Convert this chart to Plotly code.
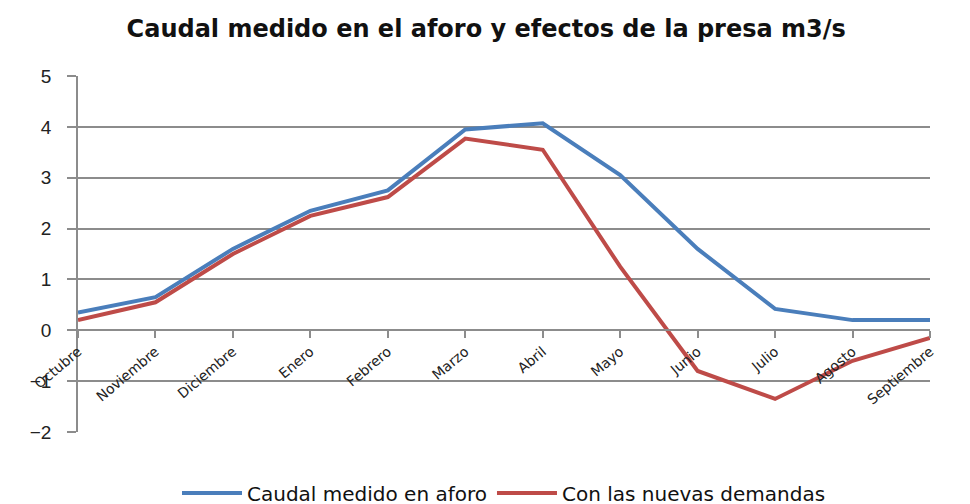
import plotly.graph_objects as go

meses = ["Octubre", "Noviembre", "Diciembre", "Enero", "Febrero", "Marzo",
         "Abril", "Mayo", "Junio", "Julio", "Agosto", "Septiembre"]
caudal_aforo = [0.35, 0.65, 1.6, 2.35, 2.75, 3.95, 4.07, 3.05, 1.6, 0.42, 0.2, 0.2]
nuevas_demandas = [0.2, 0.55, 1.5, 2.25, 2.62, 3.77, 3.55, 1.25, -0.8, -1.35, -0.6, -0.15]
y_ticks = [-2, -1, 0, 1, 2, 3, 4, 5]

fig = go.Figure()
fig.add_trace(go.Scatter(x=meses, y=caudal_aforo, mode="lines",
                         name="Caudal medido en aforo",
                         line=dict(color="#4A7EBB", width=4)))
fig.add_trace(go.Scatter(x=meses, y=nuevas_demandas, mode="lines",
                         name="Con las nuevas demandas",
                         line=dict(color="#BE4B48", width=4)))

fig.update_layout(
    width=970, height=504,
    margin=dict(l=70, r=48, t=68, b=80, autoexpand=False),
    paper_bgcolor="white", plot_bgcolor="white",
    title=dict(text="<b>Caudal medido en el aforo y efectos de la presa m3/s</b>",
               x=0.493, xanchor="center", y=1 - 21 / 504, yanchor="middle",
               font=dict(family="DejaVu Sans", size=24, color="#111111")),
    legend=dict(orientation="h", x=0.5, xanchor="center", y=-0.171, yanchor="middle",
                font=dict(family="DejaVu Sans", size=20, color="#111111"),
                itemwidth=60, traceorder="normal"),
    xaxis=dict(type="category", range=[0, 11], anchor="free", position=2 / 7,
               showline=True, linecolor="#8C8C8C", linewidth=1.5,
               ticks="outside", ticklen=7, tickcolor="#8C8C8C", tickwidth=1.5,
               tickangle=-40, showgrid=False, automargin=False,
               tickfont=dict(family="DejaVu Sans", size=14, color="#222222")),
    yaxis=dict(range=[-2, 5], tickvals=y_ticks, showline=True, linecolor="#8C8C8C",
               linewidth=1.5, ticks="outside", ticklen=9, tickcolor="#8C8C8C",
               tickwidth=1.5, showgrid=True, gridcolor="#8C8C8C", gridwidth=1.5,
               zeroline=False, automargin=False, ticklabelstandoff=12,
               tickfont=dict(family="Liberation Sans", size=19, color="#222222")),
)

fig.write_html("out.html")
